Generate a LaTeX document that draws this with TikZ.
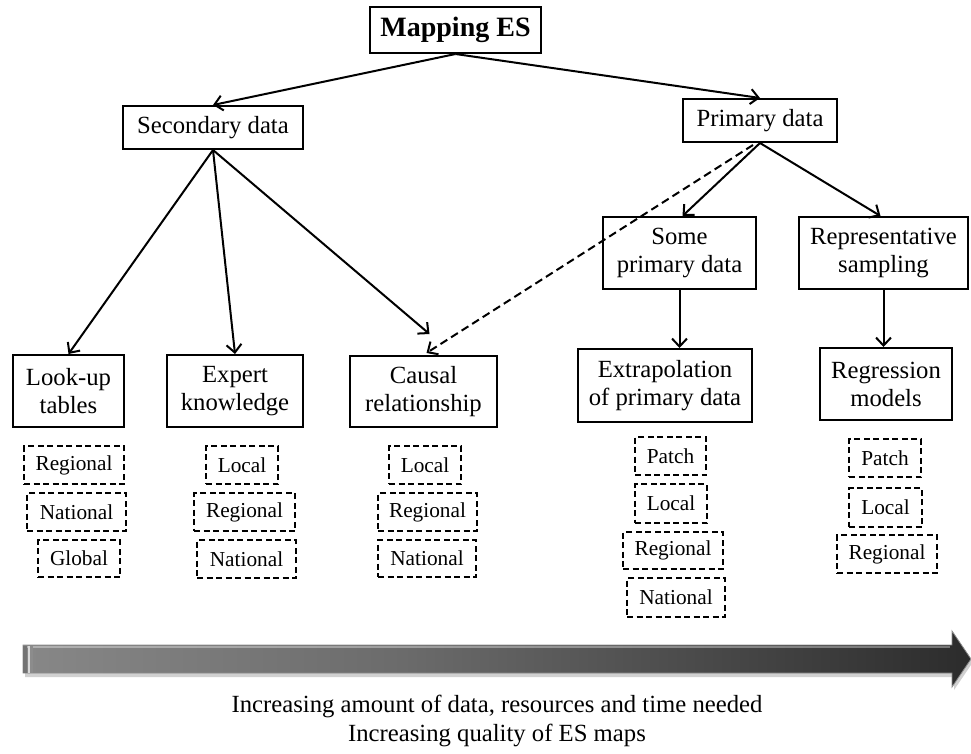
\documentclass[tikz,border=0pt]{standalone}
\usepackage{fontspec}
\setmainfont{Liberation Serif}
\usetikzlibrary{arrows.meta}
% horizontal shading of the long gradient arrow
\pgfdeclarehorizontalshading{barshade}{100bp}{%
  color(0bp)=(black!33);
  color(45bp)=(black!58);
  color(80bp)=(black!87);
  color(92bp)=(black);
  color(100bp)=(black)}
\begin{document}
\begin{tikzpicture}[x=1pt,y=-1pt,
  every node/.style={inner sep=0pt, align=center},
  box/.style={draw, line width=2pt, font=\fontsize{24.7}{28}\selectfont},
  titlebox/.style={draw, line width=2pt, font=\fontsize{28}{32}\selectfont\bfseries,
    minimum width=171pt, minimum height=46pt},
  lvl/.style={draw, line width=1.8pt, dash pattern=on 6pt off 3.5pt,
    font=\fontsize{21.3}{24}\selectfont, minimum height=38pt},
  link/.style={line width=2pt, -{Straight Barb[length=8pt,width=15pt]}},
  dlink/.style={link, dash pattern=on 8pt off 4.5pt},
  caption/.style={font=\fontsize{24.7}{29}\selectfont}]
\useasboundingbox (0,0) rectangle (971,753);

% main hierarchy
\node[titlebox] (map) at (455.5,30) {Mapping ES};
\node[box, minimum width=180pt, minimum height=43pt] (sec) at (213,127.5) {Secondary data};
\node[box, minimum width=154pt, minimum height=43pt] (prim) at (760,120.5) {Primary data};
\node[box, minimum width=153pt, minimum height=72pt] (some) at (679.5,253) {Some\\primary data};
\node[box, minimum width=169pt, minimum height=72pt] (rep) at (883.5,253) {Representative\\sampling};

% methods
\node[box, minimum width=111pt, minimum height=72pt] (look) at (68.5,391) {Look-up\\tables};
\node[box, minimum width=136pt, minimum height=72pt] (expert) at (235,391) {Expert\\knowledge};
\node[box, minimum width=147pt, minimum height=71pt] (causal) at (423.5,391.5) {Causal\\relationship};
\node[box, minimum width=174pt, minimum height=73pt] (extra) at (665,385.5) {Extrapolation\\of primary data};
\node[box, minimum width=132pt, minimum height=72pt] (regr) at (886,384) {Regression\\models};

% scales per method
\node[lvl, minimum width=100pt] (l1) at (74,465) {Regional};
\node[lvl, minimum width=99pt]  (l2) at (76.5,512) {National};
\node[lvl, minimum width=82pt, minimum height=37pt] (l3) at (79,558.5) {Global};

\node[lvl, minimum width=72pt]  (e1) at (242,465) {Local};
\node[lvl, minimum width=101pt] (e2) at (244.5,512) {Regional};
\node[lvl, minimum width=99pt]  (e3) at (246.5,559) {National};

\node[lvl, minimum width=72pt]  (c1) at (425,465) {Local};
\node[lvl, minimum width=99pt]  (c2) at (427.5,512) {Regional};
\node[lvl, minimum width=98pt, minimum height=37pt] (c3) at (427,558.5) {National};

\node[lvl, minimum width=71pt]  (x1) at (670.5,456) {Patch};
\node[lvl, minimum width=72pt, minimum height=39pt] (x2) at (671,503.5) {Local};
\node[lvl, minimum width=100pt, minimum height=37pt] (x3) at (673,550.5) {Regional};
\node[lvl, minimum width=98pt, minimum height=39pt] (x4) at (676,597.5) {National};

\node[lvl, minimum width=72pt]  (r1) at (885,458) {Patch};
\node[lvl, minimum width=73pt, minimum height=39pt] (r2) at (885.5,507.5) {Local};
\node[lvl, minimum width=100pt] (r3) at (887,554) {Regional};

% connectors
\draw[link] (map.south) -- (sec.north);
\draw[link] (map.south) -- (prim.north);
\draw[link] (sec.south) -- (look.north);
\draw[link] (sec.south) -- (expert.north);
\draw[link] (sec.south) -- ([xshift=6pt,yshift=21pt]causal.north);
\draw[dlink] ([xshift=-7pt,yshift=-2pt]prim.south) -- ([xshift=3pt,yshift=2pt]causal.north);
\draw[link] (prim.south) -- ([xshift=3pt]some.north);
\draw[link] (prim.south) -- ([xshift=-3pt]rep.north);
\draw[link] (some.south) -- (some.south |- extra.north);
\draw[link] (rep.south) -- (rep.south |- regr.north);

% gradient arrow: shadow, body, end cap details
\fill[black!18] (25,648) -- (954,648) -- (954,634) -- (973,662) -- (954,690) -- (954,677) -- (25,677) -- cycle;
\shade[shading=barshade, draw=black!45, line width=0.8pt]
  (23,645) -- (952,645) -- (952,631) -- (971,659) -- (952,687) -- (952,673) -- (23,673) -- cycle;
\draw[white, opacity=0.35, line width=1.5pt] (26,647) -- (950,647);
\fill[black!55] (23,645.5) rectangle (27,672.5);
\fill[black!15] (28,645.5) rectangle (30,672.5);
\fill[black!45] (30,645.5) rectangle (33,672.5);

% caption
\node[caption, anchor=base] (cap1) at (497,712) {Increasing amount of data, resources and time needed};
\node[caption, anchor=base] (cap2) at (497,741) {Increasing quality of ES maps};
\end{tikzpicture}
\end{document}
